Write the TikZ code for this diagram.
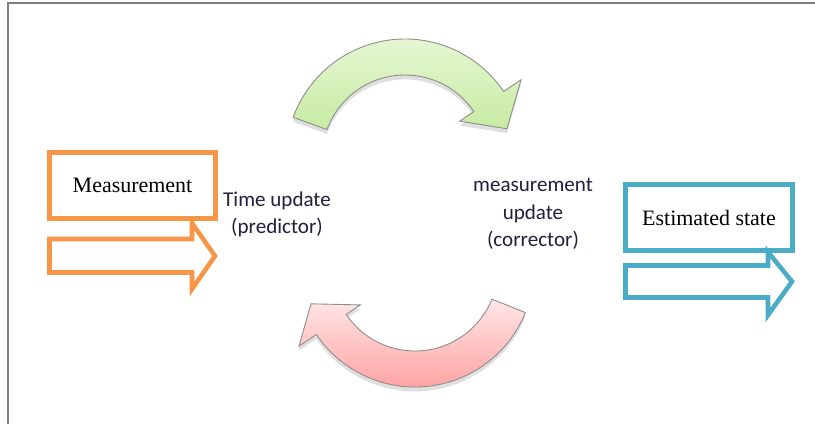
\documentclass[tikz,border=0pt]{standalone}
\usepackage{fontspec}
\setmainfont{Liberation Serif}
\newfontfamily\calfont{Carlito}
\usetikzlibrary{shadows}

\definecolor{boxorange}{RGB}{247,150,70}
\definecolor{boxteal}{RGB}{75,172,198}
\definecolor{labeltext}{RGB}{35,30,60}
\definecolor{arcline}{RGB}{140,140,140}

\begin{document}
\begin{tikzpicture}[x=0.02cm,y=-0.02cm,thick,
        statebox/.style={draw, rectangle, line width=2.6pt, minimum width=3.33cm, minimum height=1.32cm, font=\fontsize{12.5}{15}\selectfont},
        flatarrow/.style={line width=2.6pt, line join=miter},
        updatetext/.style={align=center, text=labeltext, font=\calfont\fontsize{12}{15.5}\selectfont},
        cyclearrow/.style={draw=arcline, line width=0.5pt, drop shadow={opacity=0.25, shadow xshift=0pt, shadow yshift=-2.5pt}}]
        \useasboundingbox (0,0) rectangle (815,424);
        \draw[gray, line width=0.6pt] (8,424) -- (8,3) -- (815,3);

        \node (meas) [statebox, draw=boxorange] at (132.5,185.5) {Measurement};
        \node (est) [statebox, draw=boxteal] at (709,217.5) {Estimated state};
        \node (timeupd) [updatetext] at (277,214) {Time update\\(predictor)};
        \node (measupd) [updatetext] at (533,214) {measurement\\update\\(corrector)};

        % input and output arrows
        \draw[flatarrow, boxorange] (49.5,239) -- (192,239) -- (192,223) -- (215,256) -- (192,289) -- (192,272.5) -- (49.5,272.5) -- cycle;
        \draw[flatarrow, boxteal] (625.5,265.5) -- (768,265.5) -- (768,252) -- (792,281.5) -- (768,315) -- (768,297.5) -- (625.5,297.5) -- cycle;

        % predictor -> corrector
        \begin{scope}[shift={(405,158)}]
                \draw[cyclearrow, top color={rgb,255:red,234;green,249;blue,218}, bottom color={rgb,255:red,198;green,235;blue,162}]
                        (-160:119) arc[start angle=-160, end angle=-34, radius=119] -- (-34:140) -- (-16:106)
                        -- (-34:66) -- (-34:83) arc[start angle=-34, end angle=-160, radius=83] -- cycle;
        \end{scope}
        % corrector -> predictor
        \begin{scope}[shift={(415,268)}]
                \draw[cyclearrow, top color={rgb,255:red,255;green,230;blue,230}, bottom color={rgb,255:red,255;green,152;blue,152}]
                        (22:119) arc[start angle=22, end angle=146, radius=119] -- (146:140) -- (161:110)
                        -- (146:66) -- (146:83) arc[start angle=146, end angle=22, radius=83] -- cycle;
        \end{scope}
\end{tikzpicture}
\end{document}
